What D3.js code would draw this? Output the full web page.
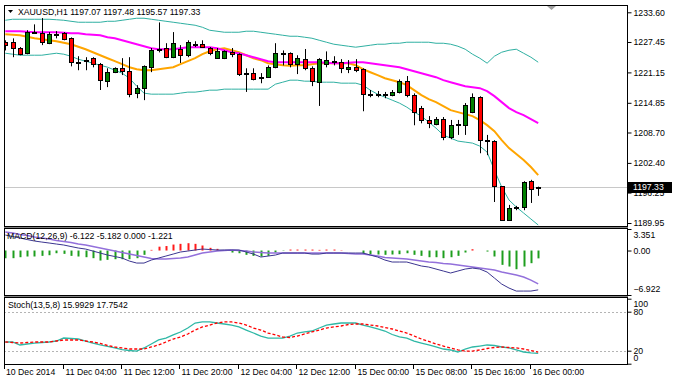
<!DOCTYPE html>
<html>
<head>
<meta charset="utf-8">
<script src="https://cdn.jsdelivr.net/npm/d3@7"></script>
<style>
  body { margin: 0; background: #fff; }
  text { font-family: "Liberation Sans", Arial, sans-serif; font-size: 8.7px; fill: #000; }
</style>
</head>
<body>
<div id="chart"></div>
<script>
//<<< Data >>>

const symbolTitle = "XAUUSD,H1 1197.07 1197.48 1195.57 1197.33";
const macdTitle = "MACD(12,26,9) -6.122 -5.182 0.000 -1.221";
const stochTitle = "Stoch(13,5,8) 15.9929 17.7542";

//bar index of each time label on the bottom axis
const timeTickBars = [0, 8, 16, 24, 32, 40, 48, 56, 64, 72];
const timeTickLabels = ["10 Dec 2014", "11 Dec 04:00", "11 Dec 12:00", "11 Dec 20:00", "12 Dec 04:00",
  "12 Dec 12:00", "15 Dec 00:00", "15 Dec 08:00", "15 Dec 16:00", "16 Dec 00:00"];

const priceTicks = [1233.60, 1227.45, 1221.15, 1214.85, 1208.70, 1202.40, 1196.25, 1189.95];
const macdTicks = [3.351, 0.00, -6.922];
const stochTicks = [100, 80, 20, 0];
const stochLevels = [80, 20];
const lastPrice = 1197.33;

const opens = [1227.4, 1227.4, 1226.2, 1225.1, 1229.3, 1229.3, 1227.2, 1229.1, 1229.3, 1228.2,
  1223.3, 1223.7, 1224.1, 1222.9, 1219.3, 1221.2, 1222.0, 1221.4, 1216.8, 1217.9,
  1222.2, 1225.9, 1226.2, 1224.3, 1226.0, 1224.7, 1226.9, 1227.0, 1226.2, 1224.1,
  1224.1, 1225.3, 1224.9, 1220.8, 1221.0, 1220.0, 1220.2, 1222.2, 1225.1, 1225.1,
  1222.9, 1223.9, 1222.0, 1219.1, 1222.9, 1223.3, 1223.3, 1221.8, 1222.2, 1221.8,
  1216.6, 1216.4, 1216.6, 1216.4, 1217.0, 1219.3, 1216.4, 1213.7, 1211.3, 1210.4,
  1211.5, 1207.7, 1210.2, 1210.2, 1212.9, 1216.0, 1207.1, 1206.9, 1197.6, 1190.6,
  1193.1, 1193.3, 1198.6, 1197.07];
const highs = [1227.8, 1228.2, 1226.4, 1229.9, 1231.1, 1232.4, 1229.5, 1229.7, 1229.5, 1228.4,
  1224.5, 1224.3, 1224.3, 1223.1, 1222.0, 1222.2, 1224.1, 1224.3, 1218.5, 1222.6,
  1226.2, 1231.5, 1227.2, 1229.5, 1226.8, 1227.8, 1227.6, 1227.8, 1226.4, 1226.2,
  1225.7, 1226.2, 1225.1, 1222.0, 1222.0, 1221.0, 1222.6, 1227.2, 1225.7, 1225.3,
  1224.7, 1226.0, 1222.4, 1224.1, 1225.5, 1224.5, 1223.9, 1223.7, 1223.9, 1222.0,
  1217.5, 1217.3, 1217.1, 1217.5, 1219.7, 1220.4, 1216.8, 1214.2, 1212.1, 1211.9,
  1211.9, 1211.3, 1211.3, 1214.8, 1216.8, 1216.2, 1208.2, 1207.1, 1197.6, 1193.7,
  1193.5, 1198.6, 1198.9, 1197.48];
const lows = [1225.7, 1224.3, 1224.7, 1224.9, 1229.1, 1226.8, 1227.0, 1228.2, 1227.8, 1222.4,
  1221.6, 1221.6, 1222.2, 1217.5, 1218.1, 1221.0, 1220.6, 1216.0, 1215.8, 1215.4,
  1221.2, 1225.3, 1224.1, 1224.1, 1223.1, 1224.3, 1226.4, 1226.2, 1224.7, 1224.1,
  1223.9, 1224.3, 1220.4, 1217.1, 1219.5, 1218.9, 1220.0, 1222.0, 1222.6, 1222.2,
  1220.8, 1221.6, 1218.3, 1214.2, 1222.2, 1222.6, 1221.0, 1221.0, 1221.2, 1213.1,
  1216.0, 1216.0, 1215.8, 1216.2, 1216.8, 1216.0, 1210.2, 1210.6, 1209.6, 1210.2,
  1207.1, 1207.3, 1208.2, 1208.2, 1212.7, 1204.4, 1204.0, 1194.3, 1190.4, 1190.4,
  1192.6, 1192.6, 1194.1, 1195.57];
const closes = [1226.8, 1226.2, 1224.9, 1229.5, 1229.5, 1227.4, 1229.1, 1229.2, 1228.0, 1223.3,
  1223.4, 1223.8, 1222.9, 1219.5, 1221.2, 1222.0, 1221.4, 1216.6, 1217.9, 1222.4,
  1225.7, 1225.8, 1224.3, 1227.2, 1224.7, 1227.4, 1227.0, 1226.4, 1225.1, 1225.5,
  1225.5, 1224.9, 1220.8, 1221.0, 1219.8, 1220.2, 1222.2, 1225.1, 1225.0, 1222.9,
  1224.1, 1222.0, 1219.3, 1223.9, 1223.7, 1223.5, 1222.0, 1222.2, 1221.6, 1216.6,
  1216.4, 1216.6, 1216.5, 1217.0, 1219.3, 1216.4, 1212.9, 1211.3, 1210.6, 1211.5,
  1207.7, 1210.2, 1210.4, 1214.4, 1216.0, 1207.1, 1206.9, 1197.6, 1190.6, 1193.1,
  1193.2, 1198.4, 1197.0, 1197.33];

const bandUpper = [1231.95, 1232.16, 1232.16, 1232.16, 1232.16, 1232.16, 1232.16, 1232.06, 1231.95, 1231.74,
  1231.54, 1231.54, 1231.54, 1231.54, 1231.74, 1231.74, 1231.95, 1232.16, 1232.37, 1232.37,
  1232.16, 1231.95, 1231.74, 1231.54, 1231.33, 1231.12, 1230.92, 1230.50, 1229.88, 1229.68,
  1229.47, 1229.47, 1229.47, 1229.68, 1229.68, 1229.47, 1229.26, 1229.06, 1228.85, 1228.64,
  1228.64, 1228.44, 1228.23, 1227.81, 1227.40, 1226.99, 1226.78, 1226.57, 1226.37, 1226.57,
  1226.78, 1226.99, 1226.99, 1227.19, 1227.19, 1227.40, 1227.40, 1227.40, 1227.40, 1227.19,
  1227.19, 1226.99, 1226.57, 1225.95, 1224.92, 1224.09, 1223.06, 1224.50, 1225.33, 1225.74,
  1225.95, 1225.12, 1224.30, 1223.26];
const bandLower = [1225.12, 1224.92, 1224.71, 1224.71, 1224.71, 1224.71, 1224.92, 1225.12, 1224.92, 1224.50,
  1223.88, 1223.47, 1223.06, 1222.64, 1222.23, 1221.61, 1220.99, 1219.95, 1218.30, 1216.85,
  1216.64, 1216.64, 1216.64, 1216.64, 1216.85, 1217.06, 1217.06, 1217.26, 1217.47, 1217.47,
  1217.68, 1217.68, 1217.68, 1217.68, 1217.68, 1217.68, 1217.68, 1218.71, 1219.12, 1219.54,
  1219.54, 1219.33, 1219.33, 1219.12, 1219.12, 1219.12, 1218.92, 1218.92, 1218.92, 1218.50,
  1217.47, 1216.64, 1216.02, 1215.40, 1214.78, 1213.95, 1212.92, 1212.09, 1210.85, 1209.61,
  1208.16, 1207.54, 1206.92, 1206.71, 1206.50, 1205.88, 1204.64, 1200.92, 1197.40, 1194.71,
  1193.26, 1192.02, 1190.78, 1189.54];
const maSlow = [1229.68, 1229.68, 1229.68, 1229.57, 1229.47, 1229.47, 1229.47, 1229.47, 1229.37, 1229.26,
  1229.26, 1229.06, 1228.95, 1228.85, 1228.44, 1228.23, 1227.81, 1227.40, 1226.99, 1226.57,
  1226.16, 1225.95, 1225.95, 1225.95, 1226.16, 1226.37, 1226.37, 1226.37, 1226.37, 1226.16,
  1225.74, 1225.33, 1225.12, 1224.71, 1224.30, 1223.88, 1223.47, 1223.26, 1223.26, 1223.26,
  1223.26, 1223.26, 1223.26, 1223.26, 1223.16, 1223.06, 1223.06, 1223.16, 1223.26, 1223.26,
  1223.06, 1222.85, 1222.64, 1222.43, 1222.23, 1221.81, 1221.40, 1220.99, 1220.57, 1220.16,
  1219.54, 1219.12, 1218.71, 1218.30, 1218.09, 1217.88, 1217.26, 1216.23, 1214.99, 1213.75,
  1212.92, 1212.30, 1211.47, 1210.64];
const maFast = [1229.06, 1228.95, 1228.85, 1228.54, 1228.23, 1228.02, 1227.81, 1227.61, 1227.30, 1226.99,
  1226.47, 1225.95, 1225.33, 1224.71, 1224.09, 1223.47, 1222.85, 1222.23, 1221.81, 1221.61,
  1221.61, 1221.81, 1222.02, 1222.23, 1222.85, 1223.47, 1224.09, 1224.92, 1225.54, 1225.95,
  1226.16, 1225.74, 1225.33, 1224.71, 1224.09, 1223.68, 1223.06, 1222.85, 1222.64, 1222.54,
  1222.64, 1222.64, 1222.85, 1223.06, 1223.06, 1223.06, 1223.06, 1223.06, 1222.64, 1221.81,
  1221.19, 1220.57, 1219.95, 1219.54, 1219.12, 1218.50, 1217.47, 1216.44, 1215.61, 1214.99,
  1214.16, 1213.33, 1212.92, 1212.50, 1212.09, 1211.26, 1210.23, 1208.98, 1207.12, 1205.47,
  1204.23, 1202.99, 1201.54, 1199.88];

const macdMain = [2.41, 2.18, 1.95, 1.71, 1.48, 1.32, 1.17, 1.01, 0.86, 0.62,
  0.39, 0.23, -0.08, -0.39, -0.70, -0.93, -1.17, -1.64, -1.95, -1.95,
  -1.48, -1.17, -0.86, -0.55, -0.23, -0.08, 0.08, 0.23, 0.16, 0.08,
  0.08, 0.08, 0.08, -0.23, -0.55, -1.01, -0.86, -0.70, -0.39, -0.39,
  -0.39, -0.39, -0.55, -0.55, -0.39, -0.39, -0.39, -0.39, -0.39, -0.39,
  -0.70, -1.01, -1.48, -1.79, -1.79, -1.79, -2.10, -2.41, -2.57, -2.88,
  -3.19, -3.50, -3.19, -2.88, -2.73, -2.88, -3.35, -4.28, -5.22, -5.84,
  -6.31, -6.31, -6.31, -6.122];
const macdSignal = [2.88, 2.73, 2.49, 2.34, 2.10, 1.95, 1.79, 1.56, 1.40, 1.25,
  1.01, 0.86, 0.62, 0.39, 0.16, -0.08, -0.31, -0.55, -0.78, -1.01,
  -1.25, -1.32, -1.32, -1.25, -1.17, -1.01, -0.70, -0.39, -0.23, -0.08,
  0.00, 0.08, 0.00, -0.08, -0.23, -0.31, -0.39, -0.39, -0.39, -0.39,
  -0.39, -0.39, -0.39, -0.39, -0.39, -0.39, -0.39, -0.47, -0.55, -0.55,
  -0.70, -0.86, -1.09, -1.17, -1.25, -1.32, -1.48, -1.64, -1.79, -1.87,
  -2.02, -2.10, -2.26, -2.41, -2.57, -2.73, -2.88, -3.04, -3.35, -3.58,
  -3.82, -4.13, -4.60, -5.182];
const macdHist = [-1.19, -1.19, -1.04, -0.93, -0.93, -0.83, -0.73, -0.42, -0.52, -0.83,
  -0.93, -1.04, -1.19, -1.56, -1.45, -1.35, -1.35, -1.35, -1.19, -0.67,
  0.10, 0.60, 0.70, 0.93, 1.04, 1.14, 1.04, 0.78, 0.42, 0.26,
  0.05, -0.31, -0.42, -0.67, -0.83, -0.93, -0.83, -0.31, -0.05, 0.15,
  0.15, 0.15, 0.15, 0.10, 0.15, 0.15, 0.05, 0, 0, -0.52,
  -0.57, -0.62, -0.67, -0.62, -0.57, -0.42, -0.67, -0.83, -1.04, -1.04,
  -1.19, -1.04, -0.83, -0.31, 0.20, 0, -0.16, -0.93, -2.23, -2.49,
  -2.91, -2.49, -1.97, -1.221];

const stochMain = [33.4, 33.4, 28.8, 30.3, 31.8, 32.6, 33.4, 34.9, 39.5, 38.8,
  38.0, 34.9, 31.8, 28.8, 26.5, 24.2, 21.8, 20.3, 19.5, 24.2,
  30.3, 36.5, 39.5, 44.2, 48.8, 54.9, 62.6, 64.2, 64.2, 62.6,
  61.1, 59.5, 56.5, 51.8, 47.2, 42.6, 39.5, 39.5, 39.5, 42.6,
  47.2, 48.8, 50.3, 54.9, 59.5, 61.1, 62.6, 62.6, 62.6, 59.5,
  56.5, 53.4, 50.3, 44.9, 41.1, 39.5, 34.9, 31.8, 28.8, 25.7,
  22.6, 21.1, 18.0, 22.6, 25.7, 27.2, 28.8, 28.0, 25.7, 24.2,
  21.1, 18.0, 16.5, 15.99];
const stochSignal = [33.4, 32.6, 31.8, 32.6, 33.4, 33.4, 33.4, 34.9, 36.5, 36.5,
  36.5, 34.9, 33.4, 31.1, 28.0, 25.7, 24.2, 22.6, 22.6, 22.6,
  25.7, 28.8, 33.4, 38.0, 41.1, 45.7, 51.8, 56.5, 59.5, 62.6,
  64.2, 64.2, 62.6, 59.5, 54.9, 51.8, 47.2, 44.2, 41.1, 40.3,
  42.6, 45.7, 48.8, 51.8, 54.9, 56.5, 58.0, 60.3, 61.1, 61.1,
  59.5, 58.0, 55.7, 53.4, 50.3, 47.2, 42.6, 38.0, 34.2, 30.3,
  27.2, 24.2, 21.1, 19.5, 19.5, 21.1, 23.4, 24.9, 25.7, 24.9,
  24.2, 22.6, 20.3, 17.75];

//<<< Layout >>>

var width = 675, height = 377;
var plotLeft = 4, plotRight = 627;
var mainPanel = {top: 5, bottom: 226},
    macdPanel = {top: 228, bottom: 295},
    stochPanel = {top: 297, bottom: 364};
var barStep = 7.3, firstBarX = 5.3;

const svg = d3.select("#chart")
  .append("svg")
  .attr("width", width)
  .attr("height", height)
  .style("background", "#fff");

//one bar = one hour, spaced evenly like the terminal does
var xScale = d3.scaleLinear()
  .domain([0, opens.length - 1])
  .range([firstBarX, firstBarX + barStep * (opens.length - 1)]);

var priceScale = d3.scaleLinear().domain([1189.95, 1233.60]).range([223, 12.3]);
var macdScale = d3.scaleLinear().domain([-6.922, 3.351]).range([295, 229]);
var stochScale = d3.scaleLinear().domain([0, 100]).range([363.7, 298.7]);

function px(i){ return Math.round(xScale(i)) + 0.5; }

function addClip(id, panel){
  svg.append("defs").append("clipPath")
    .attr("id", id)
    .append("rect")
    .attr("x", plotLeft + 1)
    .attr("y", panel.top + 1)
    .attr("width", plotRight - plotLeft - 1)
    .attr("height", panel.bottom - panel.top - 1);
}
addClip("clipMain", mainPanel);
addClip("clipMacd", macdPanel);
addClip("clipStoch", stochPanel);

function drawLine(layer, values, scale, color, widthPx, dash){
  layer.append("path")
    .datum(values)
    .attr("fill", "none")
    .attr("stroke", color)
    .attr("stroke-width", widthPx)
    .style("stroke-dasharray", dash || null)
    .attr("d", d3.line()
      .x(function(d, i){ return xScale(i); })
      .y(function(d){ return scale(d); }));
}

//<<< Main price panel >>>

var mainLayer = svg.append("g").attr("clip-path", "url(#clipMain)");

//last price line
mainLayer.append("line")
  .attr("x1", plotLeft).attr("x2", plotRight)
  .attr("y1", Math.round(priceScale(lastPrice)) + 0.5)
  .attr("y2", Math.round(priceScale(lastPrice)) + 0.5)
  .attr("stroke", "#c8c8c8");

drawLine(mainLayer, bandUpper, priceScale, "#2fb0a2", 1);
drawLine(mainLayer, bandLower, priceScale, "#2fb0a2", 1);
drawLine(mainLayer, maFast, priceScale, "#ffa500", 2);
drawLine(mainLayer, maSlow, priceScale, "#ff00ff", 2);

var candles = mainLayer.append("g")
  .selectAll("g")
  .data(opens)
  .enter()
  .append("g");

candles.append("line")
  .attr("x1", function(d, i){ return px(i); })
  .attr("x2", function(d, i){ return px(i); })
  .attr("y1", function(d, i){ return priceScale(highs[i]); })
  .attr("y2", function(d, i){ return priceScale(lows[i]); })
  .attr("stroke", "#000");

candles.append("rect")
  .attr("x", function(d, i){ return px(i) - 2; })
  .attr("width", 4)
  .attr("y", function(d, i){ return Math.round(priceScale(Math.max(opens[i], closes[i]))) + 0.5; })
  .attr("height", function(d, i){
    var h = Math.round(Math.abs(priceScale(opens[i]) - priceScale(closes[i])));
    return Math.max(h, 1);
  })
  .attr("fill", function(d, i){ return closes[i] >= opens[i] ? "#008000" : "#ff0000"; })
  .attr("stroke", "#000");

//<<< MACD panel >>>

var macdLayer = svg.append("g").attr("clip-path", "url(#clipMacd)");

macdLayer.append("g")
  .selectAll("line")
  .data(macdHist)
  .enter()
  .append("line")
  .attr("x1", function(d, i){ return px(i); })
  .attr("x2", function(d, i){ return px(i); })
  .attr("y1", macdScale(0))
  .attr("y2", function(d){ return macdScale(d); })
  .attr("stroke", function(d){ return d >= 0 ? "#ff1a1a" : "#1e9e1e"; })
  .attr("stroke-width", 2);

drawLine(macdLayer, macdSignal, macdScale, "#9370db", 1.5);
drawLine(macdLayer, macdMain, macdScale, "#3b3590", 1);

//<<< Stochastic panel >>>

var stochLayer = svg.append("g").attr("clip-path", "url(#clipStoch)");

stochLayer.selectAll("line.level")
  .data(stochLevels)
  .enter()
  .append("line")
  .attr("class", "level")
  .attr("x1", plotLeft).attr("x2", plotRight)
  .attr("y1", function(d){ return Math.round(stochScale(d)) + 0.5; })
  .attr("y2", function(d){ return Math.round(stochScale(d)) + 0.5; })
  .attr("stroke", "#b4b4b4")
  .style("stroke-dasharray", "2,2");

drawLine(stochLayer, stochMain, stochScale, "#2fb8a6", 1.3);
drawLine(stochLayer, stochSignal, stochScale, "#ff0000", 1.3, "3,2");

//<<< Frames >>>

[mainPanel, macdPanel, stochPanel].forEach(function(p){
  svg.append("rect")
    .attr("x", plotLeft + 0.5)
    .attr("y", p.top + 0.5)
    .attr("width", plotRight - plotLeft)
    .attr("height", p.bottom - p.top)
    .attr("fill", "none")
    .attr("stroke", "#000");
});
//gray split bars between sub windows
[mainPanel.bottom, macdPanel.bottom].forEach(function(y){
  svg.append("rect")
    .attr("x", plotLeft).attr("y", y + 1)
    .attr("width", plotRight - plotLeft + 1).attr("height", 1)
    .attr("fill", "#808080");
});

//<<< Right axes >>>

function rightAxis(scale, ticks, fmt, shiftFirstLast){
  var g = svg.append("g")
    .attr("transform", "translate(" + (plotRight + 0.5) + ",0)")
    .call(d3.axisRight(scale).tickValues(ticks).tickFormat(fmt).tickSize(4).tickPadding(2));
  g.select(".domain").remove();
  g.selectAll("line").attr("stroke", "#000");
  g.selectAll("text").attr("font-size", null).attr("font-family", null);
  if (shiftFirstLast){
    g.selectAll("text").attr("dy", function(d, i){
      if (i == 0) return "0.95em";
      if (i == ticks.length - 1) return "-0.35em";
      return "0.32em";
    });
  }
  return g;
}

rightAxis(priceScale, priceTicks, d3.format(".2f"), false);
rightAxis(macdScale, macdTicks, function(d){ return d == 0 ? "0.00" : d3.format(".3f")(d); }, true);
var stochAxis = rightAxis(stochScale, stochTicks, d3.format("d"), true);

//current price tag
svg.append("rect")
  .attr("x", plotRight + 1)
  .attr("y", Math.round(priceScale(lastPrice)) - 5)
  .attr("width", 44).attr("height", 11)
  .attr("fill", "#000");
svg.append("text")
  .attr("x", plotRight + 6)
  .attr("y", priceScale(lastPrice))
  .attr("dy", "0.34em")
  .style("fill", "#fff")
  .text(d3.format(".2f")(lastPrice));

//<<< Bottom time axis >>>

var timeAxis = svg.append("g");
timeAxis.selectAll("line")
  .data(timeTickBars)
  .enter()
  .append("line")
  .attr("x1", function(d){ return d == 0 ? plotLeft + 0.5 : px(d) - 1; })
  .attr("x2", function(d){ return d == 0 ? plotLeft + 0.5 : px(d) - 1; })
  .attr("y1", stochPanel.bottom)
  .attr("y2", stochPanel.bottom + 5)
  .attr("stroke", "#000");
timeAxis.selectAll("text")
  .data(timeTickBars)
  .enter()
  .append("text")
  .attr("x", function(d){ return d == 0 ? plotLeft + 2 : px(d) + 1; })
  .attr("y", 375)
  .text(function(d, i){ return timeTickLabels[i]; });

//<<< Titles >>>

svg.append("path")
  .attr("d", "M8,10 L13,10 L10.5,13 Z")
  .attr("fill", "#000");
svg.append("text").attr("x", 18).attr("y", 15).text(symbolTitle);
svg.append("text").attr("x", 7).attr("y", 239).text(macdTitle);
svg.append("text").attr("x", 8).attr("y", 308).text(stochTitle);

//chart shift marker
svg.append("path")
  .attr("d", "M547,6 L556,6 L551.5,10 Z")
  .attr("fill", "#a0a0a0");
</script>
</body>
</html>
